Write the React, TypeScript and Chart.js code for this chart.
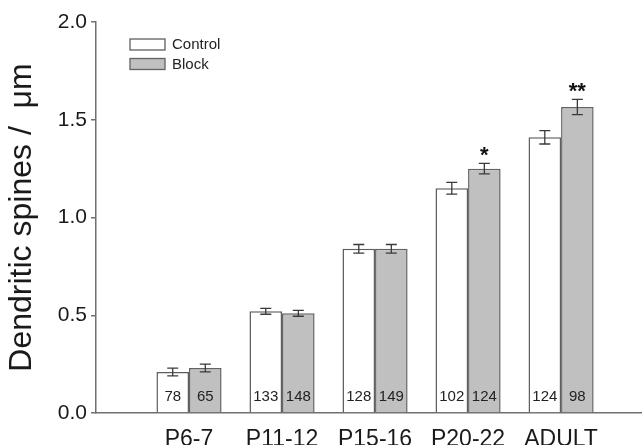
import React, { useEffect, useRef } from 'react';
import { Chart, registerables } from 'chart.js';
Chart.register(...registerables);

const categories = ['P6-7', 'P11-12', 'P15-16', 'P20-22', 'ADULT'];
const seriesNames = ['Control', 'Block'];
const controlMeans = [0.21, 0.52, 0.84, 1.15, 1.41];
const blockMeans = [0.23, 0.51, 0.84, 1.25, 1.565];
const controlErr = [0.02, 0.015, 0.022, 0.03, 0.034];
const blockErr = [0.02, 0.015, 0.022, 0.027, 0.039];
const controlN = [78, 133, 128, 102, 124];
const blockN = [65, 148, 149, 124, 98];
const controlStars = ['', '', '', '', ''];
const blockStars = ['', '', '', '*', '**'];
const yTicks = [0, 0.5, 1.0, 1.5, 2.0];

const FONT = '"Liberation Sans", Arial, sans-serif';
const errs = [controlErr, blockErr];
const counts = [controlN, blockN];
const stars = [controlStars, blockStars];

const overlay = {
  id: 'overlay',
  afterDatasetsDraw(chart: any) {
    const ctx = chart.ctx;
    const ys = chart.scales.y;
    const area = chart.chartArea;
    ctx.save();
    chart.data.datasets.forEach((ds: any, di: number) => {
      const meta = chart.getDatasetMeta(di);
      meta.data.forEach((bar: any, i: number) => {
        const v = ds.data[i].y;
        const e = errs[di][i];
        const top = ys.getPixelForValue(v + e);
        const bot = ys.getPixelForValue(v - e);
        const x = bar.x;
        ctx.strokeStyle = '#3a3a3a';
        ctx.lineWidth = 1.3;
        ctx.beginPath();
        ctx.moveTo(x, top);
        ctx.lineTo(x, bot);
        ctx.moveTo(x - 5.5, top);
        ctx.lineTo(x + 5.5, top);
        ctx.moveTo(x - 5.5, bot);
        ctx.lineTo(x + 5.5, bot);
        ctx.stroke();
        ctx.fillStyle = '#222';
        ctx.font = `15px ${FONT}`;
        ctx.textAlign = 'center';
        ctx.textBaseline = 'middle';
        ctx.fillText(String(counts[di][i]), x, area.bottom - 16);
        const s = stars[di][i];
        if (s) {
          ctx.font = `bold 22px ${FONT}`;
          ctx.textBaseline = 'alphabetic';
          ctx.fillStyle = '#111';
          ctx.fillText(s, x, top - 1);
        }
      });
    });
    const lx = area.left + 34;
    let ly = area.top + 17;
    chart.data.datasets.forEach((ds: any) => {
      ctx.fillStyle = ds.backgroundColor;
      ctx.fillRect(lx, ly, 35, 11);
      ctx.strokeStyle = ds.borderColor;
      ctx.lineWidth = 1.3;
      ctx.strokeRect(lx, ly, 35, 11);
      ctx.fillStyle = '#222';
      ctx.font = `15px ${FONT}`;
      ctx.textAlign = 'left';
      ctx.textBaseline = 'middle';
      ctx.fillText(ds.label, lx + 42, ly + 6);
      ly += 19.5;
    });
    ctx.restore();
  },
};

export default function App() {
  const ref = useRef<HTMLCanvasElement>(null);
  useEffect(() => {
    document.body.style.margin = '0';
    const chart = new Chart(ref.current as HTMLCanvasElement, {
      type: 'bar',
      data: {
        datasets: [
          {
            label: seriesNames[0],
            data: controlMeans.map((v, i) => ({ x: i + 1, y: v })),
            backgroundColor: '#ffffff',
            borderColor: '#5f5f5f',
            borderWidth: 1.5,
          },
          {
            label: seriesNames[1],
            data: blockMeans.map((v, i) => ({ x: i + 1, y: v })),
            backgroundColor: '#c0c0c0',
            borderColor: '#626262',
            borderWidth: 1.5,
          },
        ],
      },
      options: {
        animation: false,
        responsive: true,
        maintainAspectRatio: false,
        layout: { padding: { top: 22, right: 0, left: 0, bottom: 0 } },
        datasets: { bar: { categoryPercentage: 0.7, barPercentage: 1.0 } },
        plugins: { legend: { display: false }, tooltip: { enabled: false } },
        scales: {
          x: {
            type: 'linear',
            offset: false,
            min: 0,
            max: 5.87,
            afterBuildTicks: (scale: any) => {
              scale.ticks = categories.map((_, i) => ({ value: i + 1 }));
            },
            afterFit: (scale: any) => {
              scale.height = 32;
            },
            grid: { display: false },
            border: { display: true, color: '#707070', width: 1.5 },
            ticks: {
              autoSkip: false,
              maxRotation: 0,
              padding: 5,
              color: '#1a1a1a',
              font: { family: FONT, size: 23 },
              callback: (v: any) => categories[Math.round(v) - 1] ?? '',
            },
          },
          y: {
            min: 0,
            max: 2,
            afterBuildTicks: (scale: any) => {
              scale.ticks = yTicks.map((v) => ({ value: v }));
            },
            afterFit: (scale: any) => {
              scale.width = 96;
            },
            grid: { drawOnChartArea: false, drawTicks: true, tickLength: 5, color: '#707070', lineWidth: 1.5 },
            border: { display: true, color: '#707070', width: 1.5 },
            ticks: {
              padding: 4,
              color: '#1a1a1a',
              font: { family: FONT, size: 21 },
              callback: (v: any) => Number(v).toFixed(1),
            },
            title: {
              display: true,
              text: 'Dendritic spines /  μm',
              color: '#1a1a1a',
              font: { family: FONT, size: 32, lineHeight: 1 },
              padding: { top: 6, bottom: 0 },
            },
          },
        },
      },
      plugins: [overlay],
    } as any);
    return () => chart.destroy();
  }, []);
  return (
    <div style={{ position: 'relative', width: 642, height: 445 }}>
      <canvas ref={ref} />
    </div>
  );
}
